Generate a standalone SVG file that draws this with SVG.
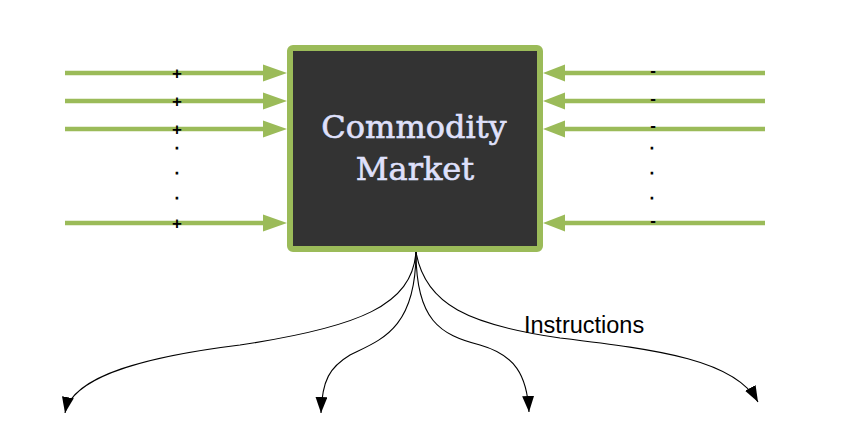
<svg xmlns="http://www.w3.org/2000/svg" width="851" height="447" viewBox="0 0 851 447">
<style>
.g{stroke:#9bbb59;stroke-width:4.5;fill:none}
.gh{fill:#9bbb59}
.sign{font-family:"Liberation Sans",Arial,sans-serif;font-size:17px;font-weight:bold;fill:#000;text-anchor:middle}
.dot{font-family:"Liberation Sans",Arial,sans-serif;font-size:10px;font-weight:bold;fill:#000;stroke:#000;stroke-width:1;text-anchor:middle}
.c{stroke:#000;stroke-width:1.1;fill:none;marker-end:url(#ah)}
.title{font-family:"DejaVu Serif",serif;font-size:32px;fill:#dfe0fb;stroke:#dfe0fb;stroke-width:0.6;text-anchor:middle}
.lbl{font-family:"Liberation Sans",Arial,sans-serif;font-size:23.5px;fill:#000}
</style>
<defs>
<marker id="ah" markerUnits="userSpaceOnUse" markerWidth="16" markerHeight="12" refX="16" refY="6" orient="auto">
<path d="M0,0 L16,6 L0,12 z" fill="#000"/>
</marker>
</defs>
<rect width="851" height="447" fill="#fff"/>
<g id="inputs-positive">
<line class="g" x1="65" y1="73" x2="266" y2="73"/>
<polygon class="gh" points="263,64.5 287,73 263,81.5"/>
<line class="g" x1="65" y1="101" x2="266" y2="101"/>
<polygon class="gh" points="263,92.5 287,101 263,109.5"/>
<line class="g" x1="65" y1="129" x2="266" y2="129"/>
<polygon class="gh" points="263,120.5 287,129 263,137.5"/>
<line class="g" x1="65" y1="223" x2="266" y2="223"/>
<polygon class="gh" points="263,214.5 287,223 263,231.5"/>
<text class="sign" x="177" y="79">+</text>
<text class="sign" x="177" y="107">+</text>
<text class="sign" x="177" y="135">+</text>
<text class="dot" x="177" y="149">.</text>
<text class="dot" x="177" y="174">.</text>
<text class="dot" x="177" y="199">.</text>
<text class="sign" x="177" y="229">+</text>
</g>
<g id="inputs-negative">
<line class="g" x1="765" y1="73" x2="562" y2="73"/>
<polygon class="gh" points="565,64.5 543,73 565,81.5"/>
<line class="g" x1="765" y1="101" x2="562" y2="101"/>
<polygon class="gh" points="565,92.5 543,101 565,109.5"/>
<line class="g" x1="765" y1="129" x2="562" y2="129"/>
<polygon class="gh" points="565,120.5 543,129 565,137.5"/>
<line class="g" x1="765" y1="223" x2="562" y2="223"/>
<polygon class="gh" points="565,214.5 543,223 565,231.5"/>
<text class="sign" x="653" y="76">-</text>
<text class="sign" x="653" y="104">-</text>
<text class="sign" x="653" y="131">-</text>
<text class="dot" x="652" y="149">.</text>
<text class="dot" x="652" y="174">.</text>
<text class="dot" x="652" y="199">.</text>
<text class="sign" x="653" y="226">-</text>
</g>
<g id="market">
<rect x="290" y="48" width="250" height="201" rx="3" fill="#333" stroke="#9bbb59" stroke-width="6"/>
<text class="title" x="414" y="138">Commodity</text>
<text class="title" x="415" y="180">Market</text>
</g>
<g id="connectors">
<path class="c" d="M416,252 C412,305 360,327 240,345 C150,356 72,375 65,413"/>
<path class="c" d="M416,252 C416,330 380,340 350,355 C330,367 322,380 321,413"/>
<path class="c" d="M416,252 C416,320 440,335 480,345 C515,355 527,375 529,412"/>
<path class="c" d="M416,252 C425,305 470,325 560,338 C660,350 735,360 758,402"/>
</g>
<g id="label">
<text class="lbl" x="524" y="333">Instructions</text>
</g>
</svg>
